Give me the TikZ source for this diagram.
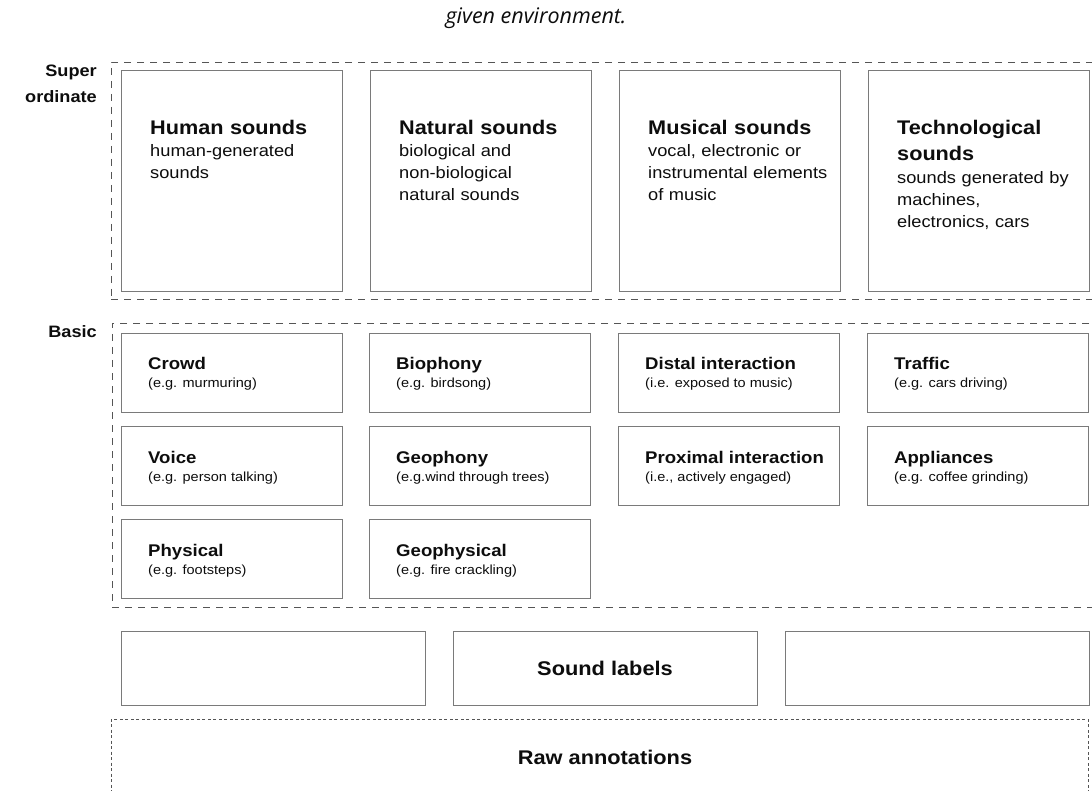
\documentclass[tikz,border=0pt]{standalone}
\usepackage{fontspec}
\setmainfont{Liberation Sans}
\newfontfamily\hv{Liberation Sans}[FakeStretch=1.1]
\newfontfamily\opensans{Open Sans}
\usetikzlibrary{calc}
\definecolor{boxgray}{HTML}{7A7A7A}
\definecolor{dashgray}{HTML}{555555}
\definecolor{ink}{HTML}{0D0D0D}
\tikzset{
  grp/.style={draw=dashgray, line width=0.9pt, dash pattern=on 7pt off 6pt, anchor=north west, inner sep=0pt, outer sep=0pt},
  rawgrp/.style={draw=dashgray, line width=0.6pt, dash pattern=on 3pt off 2.5pt},
  bigbox/.style={draw=boxgray, line width=0.9pt, inner sep=0pt, outer sep=0pt, anchor=north west, minimum width=221pt, minimum height=221pt},
  basbox/.style={draw=boxgray, line width=0.9pt, inner sep=0pt, outer sep=0pt, anchor=north west, minimum width=221.5pt, minimum height=79pt},
  sndbox/.style={draw=boxgray, line width=0.9pt, inner sep=0pt, outer sep=0pt, anchor=north west, minimum width=304pt, minimum height=74pt},
  ttl/.style={anchor=base west, inner sep=0pt, text=ink, align=left, text width=205pt, font=\hv\bfseries\fontsize{19.7}{26}\selectfont},
  subt/.style={anchor=base west, inner sep=0pt, text=ink, align=left, text width=205pt, font=\hv\fontsize{16.6}{21.7}\selectfont},
  btl/.style={anchor=base west, inner sep=0pt, text=ink, font=\hv\bfseries\fontsize{16.9}{20}\selectfont},
  bsub/.style={anchor=base west, inner sep=0pt, text=ink, font=\hv\fontsize{13.2}{16}\selectfont},
  side/.style={anchor=base east, inner sep=0pt, text=ink, align=right, text width=100pt, font=\hv\bfseries\fontsize{16.5}{26}\selectfont},
  big/.style={inner sep=0pt, text=ink, font=\hv\bfseries\fontsize{19.8}{24}\selectfont},
  toptext/.style={anchor=base, inner sep=0pt, text=ink, font=\opensans\itshape\fontsize{21.5}{24}\selectfont}
}
\newcommand\SupBox[5]{%
  \node[bigbox] (#1) at (#2,70) {};
  \node[ttl] (#1-t) at ($(#1.north west)+(29,65)$) {#3};
  \node[subt] (#1-s) at ($(#1.north west)+(29,#5)$) {#4};
}
\newcommand\BasBox[5]{%
  \node[basbox] (#1) at (#2,#3) {};
  \node[btl] (#1-t) at ($(#1.north west)+(27,37)$) {#4};
  \node[bsub] (#1-s) at ($(#1.north west)+(27,55)$) {#5};
}
\begin{document}
\begin{tikzpicture}[x=1pt,y=-1pt]
\useasboundingbox (0,0) rectangle (1092,791);
\fill[white] (0,0) rectangle (1092,791);
\clip (0,0) rectangle (1092,791);

\node[toptext] (cap) at (536,24) {given environment.};

% group frames
\node[grp, minimum width=990pt, minimum height=237pt] (supgrp) at (111,62) {};
\node[grp, minimum width=990pt, minimum height=284pt] (basgrp) at (112,323) {};

\node[side] (lsup) at (97,77) {Super\\ordinate};
\node[side] (lbas) at (97,338) {Basic};

% superordinate
\SupBox{hs}{121}{Human sounds}{human-generated\\sounds}{87}
\SupBox{ns}{370}{Natural sounds}{biological and\\non-biological\\natural sounds}{87}
\SupBox{ms}{619}{Musical sounds}{vocal, electronic or\\instrumental elements\\of music}{87}
\SupBox{ts}{868}{Technological\\sounds}{sounds generated by\\machines,\\electronics, cars}{114}

% basic
\BasBox{crowd}{121}{333}{Crowd}{(e.g. murmuring)}
\BasBox{bio}{369}{333}{Biophony}{(e.g. birdsong)}
\BasBox{distal}{618}{333}{Distal interaction}{(i.e. exposed to music)}
\BasBox{traffic}{867}{333}{Traffic}{(e.g. cars driving)}
\BasBox{voice}{121}{426}{Voice}{(e.g. person talking)}
\BasBox{geo}{369}{426}{Geophony}{(e.g.wind through trees)}
\BasBox{prox}{618}{426}{Proximal interaction}{(i.e., actively engaged)}
\BasBox{appl}{867}{426}{Appliances}{(e.g. coffee grinding)}
\BasBox{phys}{121}{519}{Physical}{(e.g. footsteps)}
\BasBox{geophys}{369}{519}{Geophysical}{(e.g. fire crackling)}

% sound labels
\node[sndbox] (sl1) at (121,631) {};
\node[sndbox] (sl2) at (453,631) {};
\node[sndbox] (sl3) at (785,631) {};
\node[big] (sltext) at (sl2.center) {Sound labels};

% raw annotations
\node[rawgrp, anchor=north west, inner sep=0pt, outer sep=0pt, minimum width=977pt, minimum height=120pt] (raw) at (111,719) {};
\node[big] (rawtext) at (605,757) {Raw annotations};
\end{tikzpicture}
\end{document}
